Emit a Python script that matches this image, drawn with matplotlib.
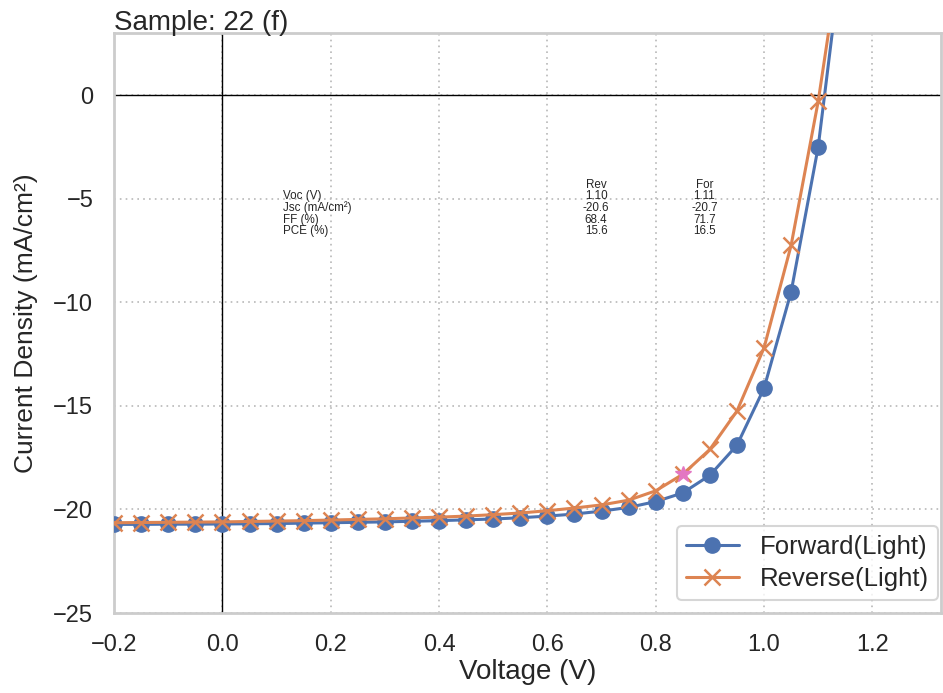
import matplotlib
matplotlib.use("Agg")
import matplotlib.pyplot as plt
import numpy as np
import seaborn as sns

# J-V sweep, light, 0.05 V steps
voltage = [-0.2, -0.15, -0.1, -0.05, 0.0, 0.05, 0.1, 0.15, 0.2, 0.25, 0.3, 0.35,
           0.4, 0.45, 0.5, 0.55, 0.6, 0.65, 0.7, 0.75, 0.8, 0.85, 0.9, 0.95,
           1.0, 1.05, 1.1, 1.15]
j_forward = [-20.72, -20.72, -20.71, -20.71, -20.70, -20.69, -20.68, -20.66, -20.64,
             -20.62, -20.60, -20.57, -20.54, -20.50, -20.46, -20.40, -20.32, -20.22,
             -20.08, -19.90, -19.62, -19.20, -18.35, -16.90, -14.15, -9.50, -2.50, 8.1]
j_reverse = [-20.64, -20.63, -20.62, -20.61, -20.60, -20.58, -20.56, -20.54, -20.51,
             -20.48, -20.45, -20.41, -20.37, -20.32, -20.25, -20.17, -20.06, -19.93,
             -19.78, -19.55, -19.10, -18.30, -17.10, -15.25, -12.20, -7.25, -0.30, 8.4]
mpp_v, mpp_j = 0.85, -18.30

param_names = ["Voc (V)", "Jsc (mA/cm²)", "FF (%)", "PCE (%)"]
rev_vals = ["1.10", "-20.6", "68.4", "15.6"]
for_vals = ["1.11", "-20.7", "71.7", "16.5"]

sns.set_theme(style="whitegrid")
plt.rcParams['font.family'] = ['Liberation Sans', 'DejaVu Sans']
txt_c = '#262626'

fig = plt.figure(figsize=(9.43, 6.93), dpi=100)
ax = fig.add_axes([0.121, 0.1154, 0.877, 0.8368])

ax.grid(True, linestyle=(0, (1, 2.5)), color='#b8b8b8', linewidth=1.2)
for sp in ax.spines.values():
    sp.set_color('#cccccc')
    sp.set_linewidth(2)

ax.axhline(0, color='black', linewidth=1, zorder=1)
ax.axvline(0, color='black', linewidth=1, zorder=1)

ax.plot(voltage, j_forward, '-o', color='#4C72B0', lw=2.2, ms=11,
        label='Forward(Light)', zorder=3)
ax.plot(voltage, j_reverse, '-x', color='#DD8452', lw=2.2, ms=11, mew=1.8,
        label='Reverse(Light)', zorder=3)
ax.plot([mpp_v], [mpp_j], '*', color='#e377c2', ms=12, zorder=4)

ax.set_xlim(-0.2, 1.327)
ax.set_ylim(-25, 3)
ax.set_xticks(np.arange(-0.2, 1.21, 0.2))
ax.set_yticks([0, -5, -10, -15, -20, -25])
ax.tick_params(labelsize=17, colors=txt_c, pad=9)

ax.set_xlabel('Voltage (V)', fontsize=20, color=txt_c, labelpad=2)
ax.set_ylabel('Current Density (mA/cm²)', fontsize=19, color=txt_c, labelpad=11)
ax.set_title('Sample: 22 (f)', loc='left', fontsize=20, color=txt_c, pad=2)

# small summary table
fs = 8.4
dy = 0.565
ax.text(0.690, -4.32, "Rev", fontsize=fs, ha='center', va='center', color=txt_c)
ax.text(0.890, -4.32, "For", fontsize=fs, ha='center', va='center', color=txt_c)
for i, name in enumerate(param_names):
    yy = -4.88 - dy * i
    ax.text(0.112, yy, name, fontsize=fs, ha='left', va='center', color=txt_c)
    ax.text(0.690, yy, rev_vals[i], fontsize=fs, ha='center', va='center', color=txt_c)
    ax.text(0.890, yy, for_vals[i], fontsize=fs, ha='center', va='center', color=txt_c)

leg = ax.legend(loc='lower right', bbox_to_anchor=(0.9964, 0.0224), fontsize=18.5,
                frameon=True, borderpad=0.35, handlelength=2.1, labelspacing=0.3,
                borderaxespad=0)
leg.get_frame().set_edgecolor('#cccccc')
leg.get_frame().set_linewidth(1.5)

fig.savefig('out.png', dpi=100)
